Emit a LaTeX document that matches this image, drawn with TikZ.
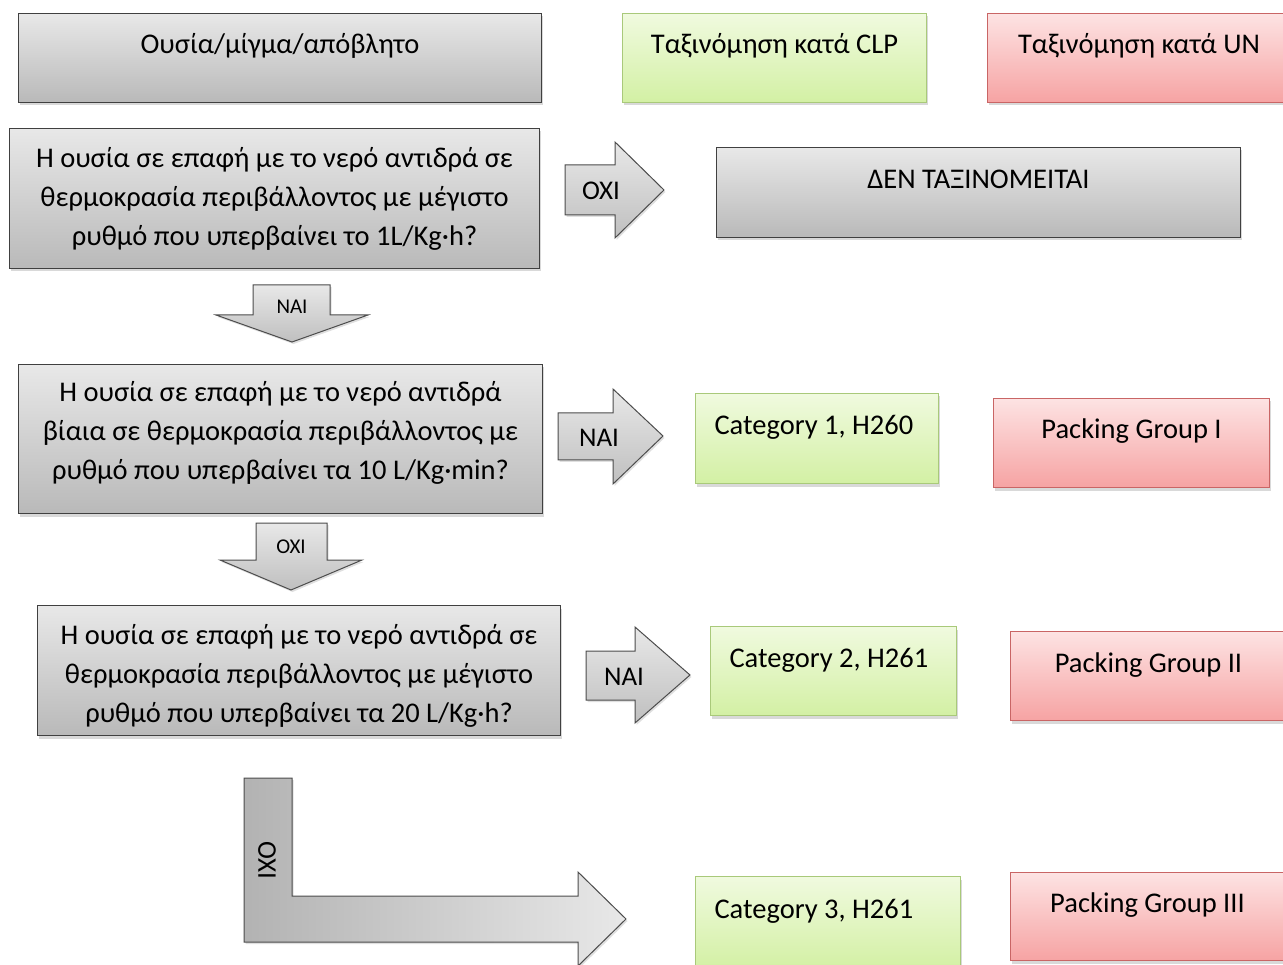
\documentclass[tikz,border=0pt]{standalone}
\usepackage{fontspec}
\setmainfont{Carlito}
\usetikzlibrary{shadows}

\definecolor{graytop}{HTML}{E8E8E8}
\definecolor{graybot}{HTML}{B9B9B9}
\definecolor{greentop}{HTML}{F0FADF}
\definecolor{greenbot}{HTML}{D3F0A4}
\definecolor{greenline}{HTML}{A9C97A}
\definecolor{redtop}{HTML}{FDE3E3}
\definecolor{redbot}{HTML}{F6A3A3}
\definecolor{redline}{HTML}{C96565}

\begin{document}
\begin{tikzpicture}[x=1pt, y=-1pt,
  every node/.style={font=\fontsize{28.5}{39}\selectfont, inner sep=0pt},
  box/.style={line width=1pt, anchor=north west, align=center,
    drop shadow={shadow xshift=1.5pt, shadow yshift=-3pt, opacity=0.3}},
  graybox/.style={box, draw=black!75, top color=graytop, bottom color=graybot},
  greenbox/.style={box, draw=greenline, top color=greentop, bottom color=greenbot},
  redbox/.style={box, draw=redline, top color=redtop, bottom color=redbot},
  oneline/.style={text height=16pt, text depth=24pt},
  catbox/.style={greenbox, oneline, minimum width=#1, text width=#1-38pt, align=flush left},
  threelines/.style={text height=#1, text depth=4pt},
  blockarrow/.style={draw=black!70, line width=1pt, top color=graytop, bottom color=black!25,
    drop shadow={shadow xshift=1.5pt, shadow yshift=-2pt, opacity=0.25}},
  arrowtext/.style={font=\fontsize{27}{30}\selectfont},
  smalltext/.style={font=\fontsize{21}{24}\selectfont}]
  \clip (0,0) rectangle (1283,965);

  % header row
  \node[graybox, oneline, minimum width=523pt, minimum height=89pt] (subst) at (18,13) {Ουσία/μίγμα/απόβλητο};
  \node[greenbox, oneline, minimum width=304pt, minimum height=89pt] (clp) at (622,13) {Ταξινόμηση κατά CLP};
  \node[redbox, oneline, minimum width=303pt, minimum height=89pt] (un) at (987,13) {Ταξινόμηση κατά UN};

  % first question
  \node[graybox, threelines=98pt, minimum width=530pt, minimum height=140pt] (q1) at (9,128)
    {Η ουσία σε επαφή με το νερό αντιδρά σε\\θερμοκρασία περιβάλλοντος με μέγιστο\\ρυθμό που υπερβαίνει το 1L/Kg·h?};
  \node[graybox, oneline, minimum width=524pt, minimum height=90pt] (notcl) at (716,147) {ΔΕΝ ΤΑΞΙΝΟΜΕΙΤΑΙ};
  \draw[blockarrow] (565,165) -- (615,165) -- (615,142) -- (664,190) -- (615,238) -- (615,215) -- (565,215) -- cycle;
  \node[arrowtext] (no1) at (601,191) {ΟΧΙ};
  \draw[blockarrow] (253,285) -- (330,285) -- (330,315) -- (368,315) -- (292,342) -- (216,315) -- (253,315) -- cycle;
  \node[smalltext] (yes1) at (292,307) {ΝΑΙ};

  % second question
  \node[graybox, threelines=85pt, minimum width=524pt, minimum height=149pt] (q2) at (18,364)
    {Η ουσία σε επαφή με το νερό αντιδρά\\βίαια σε θερμοκρασία περιβάλλοντος με\\ρυθμό που υπερβαίνει τα 10 L/Kg·min?};
  \draw[blockarrow] (558,413) -- (613,413) -- (613,389) -- (663,436) -- (613,484) -- (613,460) -- (558,460) -- cycle;
  \node[arrowtext] (yes2) at (599,438) {ΝΑΙ};
  \node[catbox=243pt, minimum height=90pt] (cat1) at (695,393) {Category 1, H260};
  \node[redbox, oneline, minimum width=276pt, minimum height=89pt] (pg1) at (993,398) {Packing Group I};
  \draw[blockarrow] (256,523) -- (327,523) -- (327,560) -- (362,560) -- (291,590) -- (220,560) -- (256,560) -- cycle;
  \node[smalltext] (no2) at (291,547) {ΟΧΙ};

  % third question
  \node[graybox, threelines=108pt, minimum width=523pt, minimum height=130pt] (q3) at (37,605)
    {Η ουσία σε επαφή με το νερό αντιδρά σε\\θερμοκρασία περιβάλλοντος με μέγιστο\\ρυθμό που υπερβαίνει τα 20 L/Kg·h?};
  \draw[blockarrow] (586,651) -- (635,651) -- (635,627) -- (690,675) -- (635,723) -- (635,700) -- (586,700) -- cycle;
  \node[arrowtext] (yes3) at (624,677) {ΝΑΙ};
  \node[catbox=246pt, minimum height=89pt] (cat2) at (710,626) {Category 2, H261};
  \node[redbox, oneline, minimum width=276pt, minimum height=89pt] (pg2) at (1010,631) {Packing Group II};

  % last branch
  \draw[blockarrow, left color=black!30, right color=graytop] (244,778) -- (292,778) -- (292,896) -- (578,896) -- (578,872)
    -- (626,919) -- (578,966) -- (578,942) -- (244,942) -- cycle;
  \node[arrowtext, rotate=-90] (no3) at (267,860) {ΟΧΙ};
  \node[catbox=265pt, minimum height=92pt] (cat3) at (695,876) {Category 3, H261};
  \node[redbox, oneline, minimum width=274pt, minimum height=88pt] (pg3) at (1010,872) {Packing Group III};
\end{tikzpicture}
\end{document}
